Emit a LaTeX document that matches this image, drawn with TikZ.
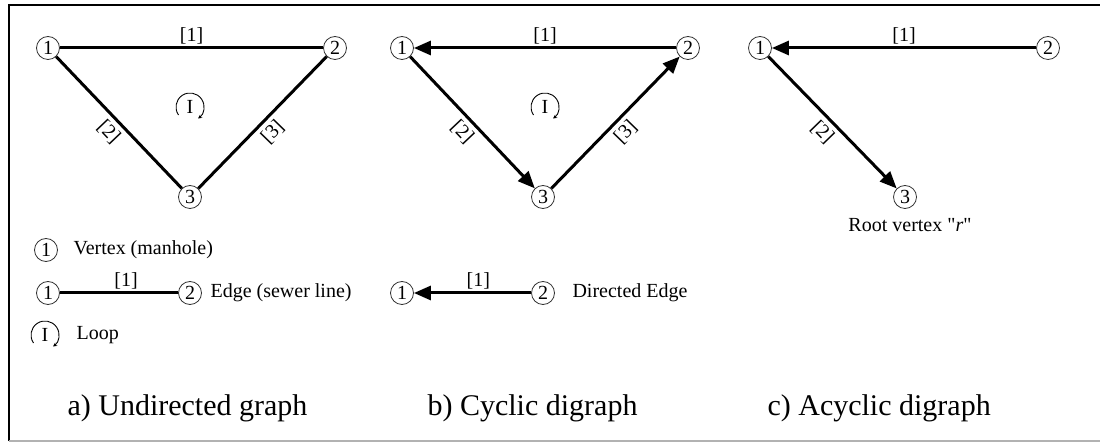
\documentclass[tikz,border=0pt]{standalone}
\usepackage{fontspec}
\setmainfont{Liberation Serif}
\newfontfamily\rawserif{Liberation Serif}[Ligatures=TeXOff]
\usetikzlibrary{arrows.meta}
\begin{document}
\begin{tikzpicture}[x=1pt,y=1pt,
 vtx/.style={circle,draw=black!80,line width=0.8pt,minimum size=23pt,inner sep=0pt,font=\fontsize{20}{20}\selectfont,fill=white},
 edgeline/.style={line width=3pt},
 dirline/.style={edgeline,-{Triangle[length=17pt,width=14pt]}},
 lbl/.style={font=\fontsize{20}{20}\selectfont,inner sep=2pt},
 slbl/.style={lbl,inner sep=4.5pt},
 captxt/.style={font=\fontsize{30}{30}\selectfont,anchor=base west},
 txt/.style={font=\fontsize{20}{20}\selectfont,anchor=west},
 loopsym/.pic={
   \node[lbl] (-I) at (0,0) {I};
   \draw[line width=0.9pt,-{Stealth[length=4pt,width=4pt]}] (0,0) ++(215:14pt) arc[start angle=215,end angle=-55,radius=14pt];
 }]
\useasboundingbox (0,0) rectangle (1100,-443);
% frame
\draw[line width=2pt] (9,-441) -- (9,-5) -- (1100,-5);
\draw[black!30,line width=1.2pt] (9,-441) -- (1100,-441);

% ---- a) undirected
\node[vtx] (a1) at (48,-48) {1};
\node[vtx] (a2) at (335,-48) {2};
\node[vtx] (a3) at (190,-197) {3};
\draw[edgeline] (a1) -- (a2) node[midway,above,lbl] {[1]};
\draw[edgeline] (a1) -- (a3) node[midway,below,sloped,slbl] {[2]};
\draw[edgeline] (a3) -- (a2) node[midway,below,sloped,slbl] {[3]};
\pic (la) at (190,-107) {loopsym};

% legend a
\node[vtx] (lv) at (46,-250) {1};
\node[txt] (lvt) at (70,-250) {Vertex (manhole)};
\node[vtx] (le1) at (48,-293) {1};
\node[vtx] (le2) at (190,-293) {2};
\draw[edgeline] (le1) -- (le2) node[pos=0.56,above,lbl] {[1]};
\node[txt] (let) at (207,-293) {Edge (sewer line)};
\pic (ll) at (45,-335) {loopsym};
\node[txt] (llt) at (73,-335) {Loop};

% ---- b) cyclic digraph
\node[vtx] (b1) at (402,-48) {1};
\node[vtx] (b2) at (688,-48) {2};
\node[vtx] (b3) at (543,-197) {3};
\draw[dirline] (b2) -- (b1) node[midway,above,lbl] {[1]};
\draw[dirline] (b1) -- (b3) node[midway,below,sloped,slbl] {[2]};
\draw[dirline] (b3) -- (b2) node[midway,below,sloped,slbl] {[3]};
\pic (lb) at (545,-107) {loopsym};

% legend b
\node[vtx] (ld1) at (402,-293) {1};
\node[vtx] (ld2) at (543,-293) {2};
\draw[dirline] (ld2) -- (ld1) node[pos=0.45,above,lbl] {[1]};
\node[txt] (ldt) at (569,-293) {Directed Edge};

% ---- c) acyclic digraph
\node[vtx] (c1) at (760,-48) {1};
\node[vtx] (c2) at (1048,-48) {2};
\node[vtx] (c3) at (905,-197) {3};
\draw[dirline] (c2) -- (c1) node[midway,above,lbl] {[1]};
\draw[dirline] (c1) -- (c3) node[midway,below,sloped,slbl] {[2]};
\node[lbl] (root) at (910,-225) {Root vertex {\rawserif"}\textit{r}{\rawserif"}};

% captions
\node[captxt] (capa) at (64,-415) {a) Undirected graph};
\node[captxt] (capb) at (424,-415) {b) Cyclic digraph};
\node[captxt] (capc) at (764,-415) {c) Acyclic digraph};
\end{tikzpicture}
\end{document}
